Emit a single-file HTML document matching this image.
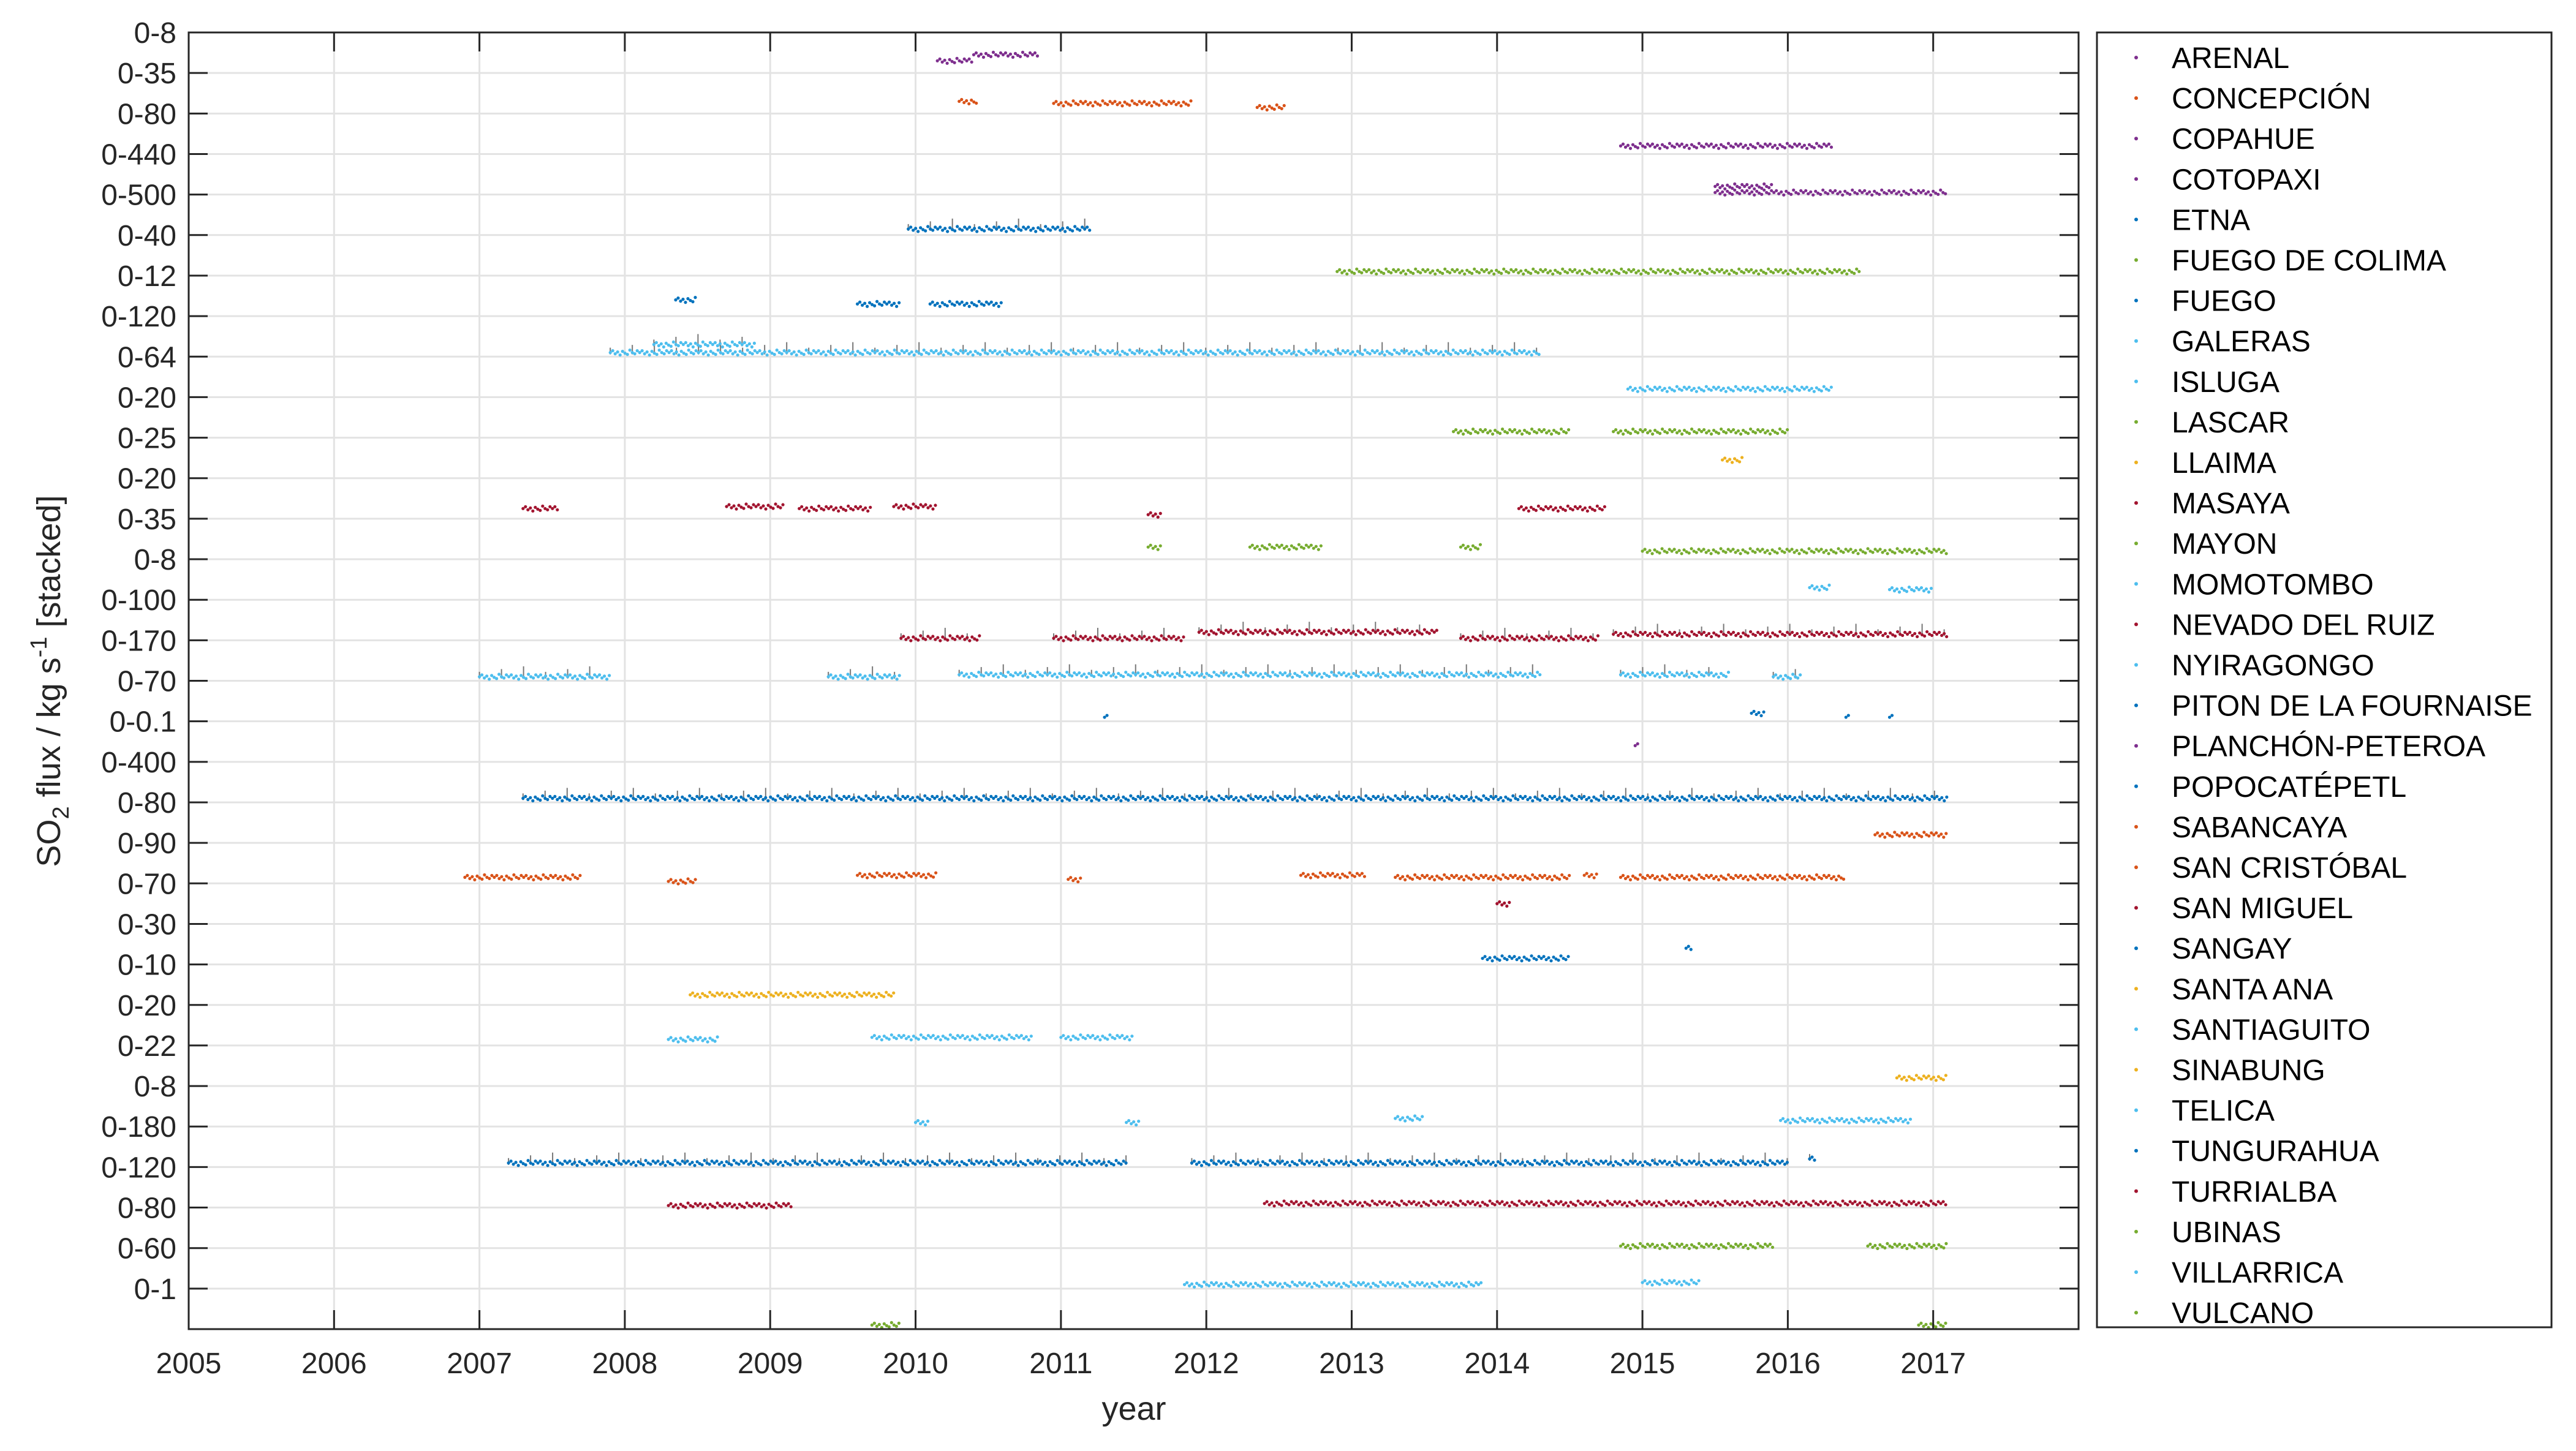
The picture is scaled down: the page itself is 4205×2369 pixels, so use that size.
<!DOCTYPE html>
<html><head><meta charset="utf-8"><style>
html,body{margin:0;padding:0;background:#fff}
svg{display:block;font-family:"Liberation Sans",Arial,sans-serif}
</style></head><body>
<svg id="chart" width="4205" height="2369" viewBox="0 0 4205 2369" xmlns="http://www.w3.org/2000/svg">
<rect x="0" y="0" width="4205" height="2369" fill="#fff"/>
<g id="grid"></g>
<g id="marks"></g>
<g id="axes"></g>
<g id="legend"></g>
<text x="1851" y="2318" font-size="54" text-anchor="middle" fill="#262626">year</text>
<text transform="translate(98,1112) rotate(-90)" font-size="54" text-anchor="middle" fill="#262626">SO<tspan font-size="38" dy="14">2</tspan><tspan dy="-14"> flux / kg s</tspan><tspan font-size="38" dy="-22">-1</tspan><tspan dy="22"> [stacked]</tspan></text>
</svg>
<script>
const volcanoes=["ARENAL","CONCEPCIÓN","COPAHUE","COTOPAXI","ETNA","FUEGO DE COLIMA","FUEGO","GALERAS","ISLUGA","LASCAR","LLAIMA","MASAYA","MAYON","MOMOTOMBO","NEVADO DEL RUIZ","NYIRAGONGO","PITON DE LA FOURNAISE","PLANCHÓN-PETEROA","POPOCATÉPETL","SABANCAYA","SAN CRISTÓBAL","SAN MIGUEL","SANGAY","SANTA ANA","SANTIAGUITO","SINABUNG","TELICA","TUNGURAHUA","TURRIALBA","UBINAS","VILLARRICA","VULCANO"];
const colors=["#7E2F8E","#D95319","#7E2F8E","#7E2F8E","#0072BD","#77AC30","#0072BD","#4DBEEE","#4DBEEE","#77AC30","#EDB120","#A2142F","#77AC30","#4DBEEE","#A2142F","#4DBEEE","#0072BD","#7E2F8E","#0072BD","#D95319","#D95319","#A2142F","#0072BD","#EDB120","#4DBEEE","#EDB120","#4DBEEE","#0072BD","#A2142F","#77AC30","#4DBEEE","#77AC30"];
const yTickLabels=["0-8","0-35","0-80","0-440","0-500","0-40","0-12","0-120","0-64","0-20","0-25","0-20","0-35","0-8","0-100","0-170","0-70","0-0.1","0-400","0-80","0-90","0-70","0-30","0-10","0-20","0-22","0-8","0-180","0-120","0-80","0-60","0-1"];
const xTicks=[2005,2006,2007,2008,2009,2010,2011,2012,2013,2014,2015,2016,2017];
// segments per volcano: [startYear, endYear, level within band (0..1)]
const segments=[
[[2010.15,2010.4,0.3],[2010.4,2010.85,0.45]],
[[2010.3,2010.42,0.3],[2010.95,2011.9,0.25],[2012.35,2012.55,0.15]],
[[2014.85,2016.3,0.2]],
[[2015.5,2017.1,0.05],[2015.5,2015.9,0.2]],
[[2009.95,2011.2,0.15]],
[[2012.9,2016.5,0.1]],
[[2008.35,2008.5,0.4],[2009.6,2009.9,0.3],[2010.1,2010.6,0.3]],
[[2007.9,2014.3,0.1],[2008.2,2008.9,0.3]],
[[2014.9,2016.3,0.2]],
[[2013.7,2014.5,0.15],[2014.8,2016.0,0.15]],
[[2015.55,2015.7,0.45]],
[[2007.3,2007.55,0.25],[2008.7,2009.1,0.3],[2009.2,2009.7,0.25],[2009.85,2010.15,0.3],[2011.6,2011.7,0.1],[2014.15,2014.75,0.25]],
[[2011.6,2011.7,0.3],[2012.3,2012.8,0.3],[2013.75,2013.9,0.3],[2015.0,2017.1,0.2]],
[[2016.15,2016.3,0.3],[2016.7,2017.0,0.25]],
[[2009.9,2010.45,0.05],[2010.95,2011.85,0.05],[2011.95,2013.6,0.2],[2013.75,2014.7,0.05],[2014.8,2017.1,0.15]],
[[2007.0,2007.9,0.1],[2009.4,2009.9,0.1],[2010.3,2014.3,0.15],[2014.85,2015.6,0.15],[2015.9,2016.1,0.1]],
[[2011.3,2011.32,0.1],[2015.75,2015.85,0.2],[2016.4,2016.42,0.1],[2016.7,2016.72,0.1]],
[[2014.95,2014.97,0.4]],
[[2007.3,2017.1,0.1]],
[[2016.6,2017.1,0.2]],
[[2006.9,2007.7,0.15],[2008.3,2008.5,0.05],[2009.6,2010.15,0.2],[2011.05,2011.15,0.1],[2012.65,2013.1,0.2],[2013.3,2014.5,0.15],[2014.6,2014.7,0.2],[2014.85,2016.4,0.15]],
[[2014.0,2014.1,0.5]],
[[2013.9,2014.5,0.15],[2015.3,2015.35,0.4]],
[[2008.45,2009.85,0.25]],
[[2008.3,2008.65,0.15],[2009.7,2010.8,0.2],[2011.0,2011.5,0.2]],
[[2016.75,2017.1,0.2]],
[[2010.0,2010.1,0.1],[2011.45,2011.55,0.1],[2013.3,2013.5,0.2],[2015.95,2016.85,0.15]],
[[2007.2,2011.45,0.1],[2011.9,2016.0,0.1],[2016.15,2016.2,0.2]],
[[2008.3,2009.15,0.05],[2012.4,2017.1,0.1]],
[[2014.85,2015.9,0.05],[2016.55,2017.1,0.05]],
[[2011.85,2013.9,0.1],[2015.0,2015.4,0.15]],
[[2009.7,2009.9,0.1],[2016.9,2017.1,0.1]]
];
const L=308,R=3393,T=53,B=2170,X0=2005,X1=2018,NB=32;
const NS="http://www.w3.org/2000/svg";
const offs=[0,-3,2,-1,4,-2,1,3,-4,0,2,-3];
const spikeSeries=[4,7,14,15,18,27];
function xs(v){return L+(v-X0)/(X1-X0)*(R-L);}
function ys(v){return B-v/NB*(B-T);}
function mk(tag,attrs,parent){const e=document.createElementNS(NS,tag);for(const k in attrs)e.setAttribute(k,attrs[k]);parent.appendChild(e);return e;}
const grid=document.getElementById('grid'),axes=document.getElementById('axes'),marks=document.getElementById('marks'),legend=document.getElementById('legend');
xTicks.forEach(t=>{
 const gl=mk('line',{x1:xs(t),x2:xs(t),y1:T,y2:B,stroke:'#e3e3e3','stroke-width':3},grid);
 
 
 mk('line',{x1:xs(t),x2:xs(t),y1:B,y2:B-31,stroke:'#262626','stroke-width':3},axes);
 mk('line',{x1:xs(t),x2:xs(t),y1:T,y2:T+31,stroke:'#262626','stroke-width':3},axes);
 const tx=mk('text',{x:xs(t),y:2242,'font-size':48,'text-anchor':'middle',fill:'#262626'},axes);
 tx.textContent=t;
 
 
});
yTickLabels.forEach((lab,i)=>{
 const v=NB-i,y=ys(v);
 const gl=mk('line',{x1:L,x2:R,y1:y,y2:y,stroke:'#e3e3e3','stroke-width':3},grid);
 
 
 mk('line',{x1:L,x2:L+31,y1:y,y2:y,stroke:'#262626','stroke-width':3},axes);
 mk('line',{x1:R,x2:R-31,y1:y,y2:y,stroke:'#262626','stroke-width':3},axes);
 const tx=mk('text',{x:288,y:y+17,'font-size':48,'text-anchor':'end',fill:'#262626'},axes);
 tx.textContent=lab;
 
 
});
const frame=mk('rect',{x:L,y:T,width:R-L,height:B-T,fill:'none',stroke:'#262626','stroke-width':3},axes);


segments.forEach((segs,i)=>{
 const band=NB-1-i;
 const g=mk('g',{fill:colors[i]},marks);
 
 
 const spiky=spikeSeries.indexOf(i)>=0;
 segs.forEach(s=>{
  const xa=xs(s[0]),xb=xs(s[1]),y=ys(band+s[2]);
  let k=0;
  for(let x=xa;x<=xb+0.1;x+=4){
   const off=offs[k%offs.length];
   if(spiky && k%9==0){mk('line',{x1:x,x2:x,y1:y+3,y2:y-8-(k%27)/2,stroke:'#777','stroke-width':2},g);}
   k++;
   mk('circle',{cx:x,cy:y+off,r:2.6},g);
  }
 });
});
const lb=mk('rect',{x:3423,y:53,width:742,height:2114,fill:'#fff',stroke:'#262626','stroke-width':3},legend);


volcanoes.forEach((n,i)=>{
 const y=94+i*66.1;
 const g=mk('g',{},legend);
 
 
 mk('circle',{cx:3487,cy:y,r:3,fill:colors[i]},g);
 const t=mk('text',{x:3545,y:y+17,'font-size':48,fill:'#000'},g);
 t.textContent=n;
});
</script>
</body></html>
